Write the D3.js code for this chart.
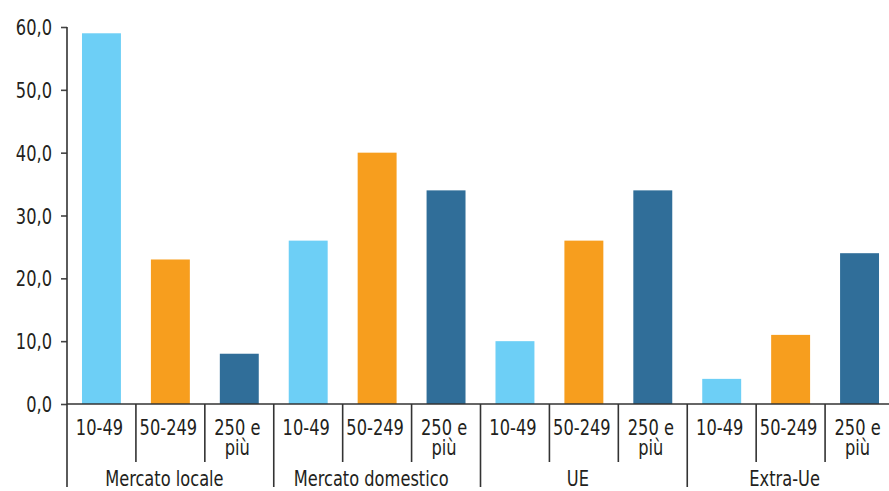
<!DOCTYPE html>
<html>
<head>
<meta charset="utf-8">
<script src="https://cdn.jsdelivr.net/npm/d3@7"></script>
<style>
  body { margin: 0; background: #fff; }
  svg text { font-family: "Liberation Sans Narrow", "DejaVu Sans Condensed", "Roboto Condensed", sans-serif; fill: #231f20; }
</style>
</head>
<body>
<svg id="chart"></svg>
<script>
// dati
const groups = ["Mercato locale", "Mercato domestico", "UE", "Extra-Ue"];
const sizes = ["10-49", "50-249", "250 e più"];
const val10_49 = [59, 26, 10, 4];
const val50_249 = [23, 40, 26, 11];
const val250 = [8, 34, 34, 24];
const yTicks = [0, 10, 20, 30, 40, 50, 60];
const colors = ["#6dcff6", "#f79e1e", "#306e99"];

const width = 889, height = 491;
const plotLeft = 67, plotRight = 894, plotTop = 27, plotBottom = 404;
const squeeze = 0.86; // font condensato

const svg = d3.select("#chart")
    .attr("width", width)
    .attr("height", height);

const series = [val10_49, val50_249, val250];
const data = [];
groups.forEach(function (g, gi) {
    sizes.forEach(function (s, si) {
        data.push({group: g, size: s, si: si, value: series[si][gi]});
    });
});

const x0 = d3.scaleBand().domain(groups).range([plotLeft, plotRight]).padding(0);
const x1 = d3.scaleBand().domain(sizes).range([0, x0.bandwidth()])
    .paddingInner(0.435).paddingOuter(0.2175);
const slot = x0.bandwidth() / sizes.length;

const y = d3.scaleLinear().domain([0, 60]).range([plotBottom, plotTop]);

const it = d3.formatLocale({decimal: ",", thousands: ".", grouping: [3], currency: ["€", ""]});
const fmt = it.format(".1f");

// bars
svg.append("g").selectAll("rect")
    .data(data)
    .enter().append("rect")
    .attr("x", d => x0(d.group) + x1(d.size))
    .attr("width", x1.bandwidth())
    .attr("y", d => y(d.value))
    .attr("height", d => y(0) - y(d.value))
    .style("fill", d => colors[d.si]);

// y axis
const yAxis = svg.append("g")
    .attr("transform", "translate(" + plotLeft + ",0)")
    .call(d3.axisLeft(y).tickValues(yTicks).tickFormat(fmt).tickSize(6).tickPadding(9));
yAxis.select(".domain").remove();
yAxis.selectAll(".tick line").attr("stroke", "#444").attr("stroke-width", 1.6);
yAxis.selectAll(".tick text")
    .style("font-size", "21px")
    .attr("dy", "0.36em")
    .attr("x", -15 / squeeze)
    .attr("transform", "scale(" + squeeze + ",1)");

const lineColor = "#333";

// axis lines
svg.append("line")
    .attr("x1", plotLeft).attr("x2", plotLeft)
    .attr("y1", plotTop).attr("y2", 487)
    .attr("stroke", lineColor).attr("stroke-width", 1.6);
svg.append("line")
    .attr("x1", plotLeft).attr("x2", plotRight)
    .attr("y1", plotBottom).attr("y2", plotBottom)
    .attr("stroke", lineColor).attr("stroke-width", 1.6);

// separators
const cat = svg.append("g");
groups.forEach(function (g, gi) {
    for (let k = 1; k < sizes.length; k++) {
        const xs = x0(g) + k * slot;
        cat.append("line")
            .attr("x1", xs).attr("x2", xs)
            .attr("y1", plotBottom).attr("y2", 462)
            .attr("stroke", lineColor).attr("stroke-width", 1.6);
    }
    if (gi > 0) {
        cat.append("line")
            .attr("x1", x0(g)).attr("x2", x0(g))
            .attr("y1", plotBottom).attr("y2", 487)
            .attr("stroke", lineColor).attr("stroke-width", 1.6);
    }
});

// size labels
data.forEach(function (d) {
    const cx = x0(d.group) + x1(d.size) + x1.bandwidth() / 2 - 2;
    const t = cat.append("text")
        .attr("text-anchor", "middle")
        .style("font-size", "21px")
        .attr("transform", "translate(" + cx + ",435) scale(" + squeeze + ",1)");
    const parts = d.size.split(" e ");
    if (parts.length > 1) {
        t.append("tspan").attr("x", 0).text(parts[0] + " e");
        t.append("tspan").attr("x", 0).attr("dy", 20).text("più");
    } else {
        t.text(d.size);
    }
});

// group labels
cat.selectAll(".glabel")
    .data(groups)
    .enter().append("text")
    .attr("class", "glabel")
    .attr("text-anchor", "middle")
    .style("font-size", "21px")
    .attr("transform", d => "translate(" + (x0(d) + x0.bandwidth() / 2 - 6) + ",486) scale(" + squeeze + ",1)")
    .text(d => d);
</script>
</body>
</html>
